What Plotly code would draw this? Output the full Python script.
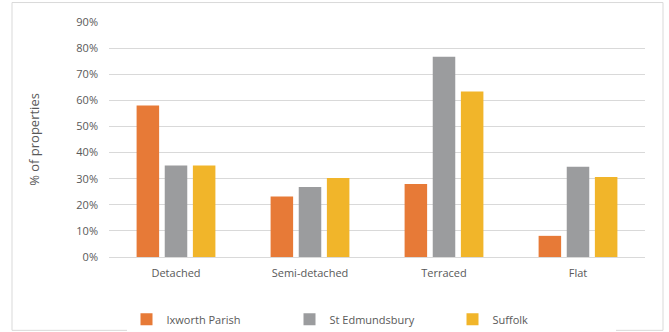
import plotly.graph_objects as go

# Dwelling types and share of properties per area
categories = ["Detached", "Semi-detached", "Terraced", "Flat"]
ixworth_parish = [0.58, 0.232, 0.28, 0.081]
st_edmundsbury = [0.35, 0.268, 0.767, 0.346]
suffolk = [0.35, 0.303, 0.634, 0.306]

y_ticks = [0, 0.1, 0.2, 0.3, 0.4, 0.5, 0.6, 0.7, 0.8, 0.9]

W, H = 669, 332
L, R, T, B = 109, 24, 22, 74.5
pw, ph = W - L - R, H - T - B

font_family = "Open Sans"
text_col = "#595959"

fig = go.Figure()
series = [
    ("Ixworth Parish", ixworth_parish, "#E77A37"),
    ("St Edmundsbury", st_edmundsbury, "#9B9C9E"),
    ("Suffolk", suffolk, "#F1B52A"),
]
for name, vals, col in series:
    fig.add_trace(go.Bar(x=categories, y=vals, name=name, marker_color=col,
                         marker_line_width=0))

def px_x(x):
    return (x - L) / pw

def px_y(y):
    return (H - B - y) / ph

# Outer chart frame
fig.add_shape(type="rect", xref="paper", yref="paper",
              x0=px_x(12), x1=px_x(663), y0=px_y(331), y1=px_y(2.5),
              line=dict(color="#D9D9D9", width=1), fillcolor="rgba(0,0,0,0)",
              layer="below")

fig.update_layout(
    width=W, height=H,
    margin=dict(l=L, r=R, t=T, b=B, autoexpand=False),
    paper_bgcolor="white", plot_bgcolor="white",
    barmode="group", bargap=0.37, bargroupgap=0.2,
    font=dict(family=font_family, size=11, color=text_col),
    showlegend=True,
    legend=dict(orientation="h", x=0.5 - 6 / pw, xanchor="center",
                y=px_y(320), yanchor="middle",
                entrywidth=118, entrywidthmode="pixels",
                font=dict(size=11, color=text_col), itemwidth=30,
                traceorder="normal"),
    xaxis=dict(showgrid=False, showline=False, zeroline=False,
               ticks="", ticklabelstandoff=8,
               tickfont=dict(size=11, color=text_col)),
    yaxis=dict(range=[0, 0.9], tickvals=y_ticks, tickformat=".0%",
               showgrid=True, gridcolor="#D9D9D9", gridwidth=1,
               zeroline=True, zerolinecolor="#D9D9D9", zerolinewidth=1,
               showline=False, ticks="", ticklabelstandoff=10,
               tickfont=dict(size=11, color=text_col),
               title=dict(text="% of properties", standoff=33,
                          font=dict(size=13, color=text_col))),
)

fig.write_html("out.html")
